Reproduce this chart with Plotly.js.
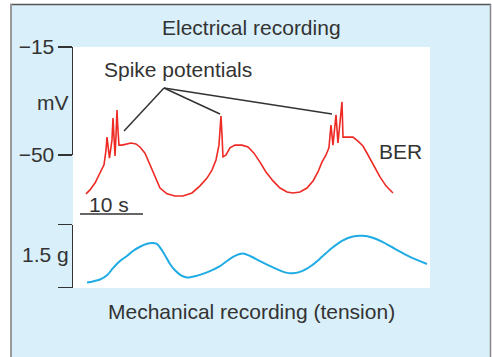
<!DOCTYPE html>
<html>
<head>
<meta charset="utf-8">
<script src="https://cdn.plot.ly/plotly-3.0.1.min.js"></script>
<style>html,body{margin:0;padding:0;background:#fff;}#chart{width:492px;height:357px;}</style>
</head>
<body>
<div id="chart"></div>
<script>
// ---- data (time in s, electrical in mV, tension in g) ----
const berTime = [2.06,2.70,3.49,4.29,4.92,5.24,5.40,5.79,6.19,6.35,6.51,6.67,6.83,6.98,7.14,7.30,7.78,8.41,9.21,10.0,10.63,11.43,12.22,13.02,13.81,14.92,16.19,17.46,18.89,20.16,21.27,22.06,22.70,23.17,23.33,23.49,23.65,23.81,24.29,24.92,25.71,26.83,27.78,28.73,29.68,30.63,31.75,32.86,33.97,34.92,36.03,37.14,38.10,38.89,39.52,40.16,40.63,40.95,41.27,41.75,42.06,42.38,42.70,42.86,43.49,44.44,45.24,46.03,46.83,47.78,48.73,49.68,50.79];
const berMv = [-62.6,-61.3,-59.1,-55.8,-53.2,-48.4,-44.2,-51.0,-45.1,-38.0,-45.1,-50.3,-43.5,-35.4,-41.9,-46.8,-46.8,-46.4,-46.1,-46.4,-47.4,-49.4,-53.2,-57.5,-60.7,-62.6,-63.3,-63.3,-62.3,-60.0,-57.5,-54.9,-51.6,-46.8,-41.9,-37.4,-43.5,-50.6,-50.0,-47.7,-46.8,-46.8,-47.4,-49.4,-52.3,-55.5,-58.4,-60.7,-62.0,-62.3,-62.0,-60.7,-58.4,-55.5,-52.3,-50.0,-47.7,-40.3,-46.8,-37.0,-46.1,-40.3,-32.8,-44.2,-44.2,-44.2,-45.5,-47.1,-50.0,-53.6,-57.1,-60.0,-62.3];
const tensionTime = [2.22,3.17,4.29,5.40,6.35,7.46,8.57,9.52,10.63,11.75,12.54,13.33,13.97,14.60,15.40,16.19,17.14,18.10,19.37,21.27,23.33,25.40,26.98,28.10,29.68,31.75,33.65,34.92,36.35,37.94,39.52,41.11,42.70,44.29,46.03,47.46,49.05,51.11,53.49,56.19];
const tensionG = [0.12,0.145,0.19,0.29,0.46,0.63,0.75,0.87,0.97,1.04,1.06,1.04,0.92,0.77,0.56,0.41,0.29,0.24,0.27,0.36,0.51,0.73,0.81,0.75,0.63,0.48,0.36,0.34,0.39,0.53,0.73,0.94,1.11,1.21,1.23,1.19,1.09,0.92,0.73,0.56];
const mvTicks = [-50, -15];
const mvTickText = ['\u221250', '\u221215'];
const gTicks = [0, 1.5];
const scaleBarStart = 1.11;   // s
const scaleBarLength = 10;    // s
const spikeLabelFrom = {t: 14.44, mv: -28.3};
const spikeTipsTime = [8.10, 23.33, 41.11];
const spikeTipsMv = [-42.2, -36.7, -36.7];
const timeSpan = 56.67;

// ---- layout geometry ----
const W = 492, H = 357, mL = 73, mR = 62, mT = 47, mB = 69;
const plotH = H - mT - mB, plotW = W - mL - mR;
const py = p => (H - mB - p) / plotH;   // pixel y -> paper y
const px = p => (p - mL) / plotW;       // pixel x -> paper x

// electrical bracket axis: -15 at top of plot (47px), -50 at 155px
const mvDom = [py(155), py(47)];
const mvPerPaper = (mvTicks[1] - mvTicks[0]) / (mvDom[1] - mvDom[0]);
const mvRangeFull = [mvTicks[0] - mvDom[0] * mvPerPaper, mvTicks[1] + (1 - mvDom[1]) * mvPerPaper];
// tension bracket axis: 0 at 287.5px, 1.5 at 224.5px
const gDom = [py(287.5), py(224.5)];
const gPerPaper = (gTicks[1] - gTicks[0]) / (gDom[1] - gDom[0]);
const gRangeFull = [gTicks[0] - gDom[0] * gPerPaper, gTicks[1] + (1 - gDom[1]) * gPerPaper];

const ink = '#333333';
const FONT = 'Liberation Sans, Arial, sans-serif';

const traces = [
  // empty traces only register the two scale-bracket axes so Plotly draws them
  {x: [], y: [], xaxis: 'x', yaxis: 'y', mode: 'lines', hoverinfo: 'skip', showlegend: false},
  {x: [], y: [], xaxis: 'x', yaxis: 'y2', mode: 'lines', hoverinfo: 'skip', showlegend: false},
  {x: berTime, y: berMv, xaxis: 'x', yaxis: 'y3', mode: 'lines',
   line: {color: '#ee2a24', width: 1.6}, hoverinfo: 'skip', showlegend: false},
  {x: tensionTime, y: tensionG, xaxis: 'x', yaxis: 'y4', mode: 'lines',
   line: {color: '#1fabe3', width: 2, shape: 'spline', smoothing: 0.8}, hoverinfo: 'skip', showlegend: false}
];

const shapes = [
  {type: 'rect', xref: 'paper', yref: 'paper', x0: px(11), x1: px(490), y0: py(380), y1: py(4.5),
   fillcolor: '#d9eff9', line: {width: 0}, layer: 'below'},
  {type: 'rect', xref: 'paper', yref: 'paper', x0: 0, x1: 1, y0: 0, y1: 1,
   fillcolor: '#ffffff', line: {width: 0}, layer: 'below'},
  {type: 'line', xref: 'paper', yref: 'paper', x0: px(10), x1: px(491), y0: py(4.5), y1: py(4.5),
   line: {color: '#555555', width: 1.6}},
  {type: 'line', xref: 'paper', yref: 'paper', x0: px(11), x1: px(11), y0: py(4), y1: py(380),
   line: {color: '#999999', width: 2}},
  {type: 'line', xref: 'paper', yref: 'paper', x0: px(490.5), x1: px(490.5), y0: py(4), y1: py(380),
   line: {color: '#888888', width: 1.5}},
  {type: 'line', xref: 'x', yref: 'paper', x0: scaleBarStart, x1: scaleBarStart + scaleBarLength,
   y0: py(214), y1: py(214), line: {color: ink, width: 1.5}}
];
spikeTipsTime.forEach((t, i) => {
  shapes.push({type: 'line', xref: 'x', yref: 'y3', x0: spikeLabelFrom.t, y0: spikeLabelFrom.mv,
    x1: t, y1: spikeTipsMv[i], line: {color: ink, width: 1.5}});
});

const txt = (text, x, y, extra) => Object.assign({text, xref: 'paper', yref: 'paper', x, y,
  xanchor: 'center', yanchor: 'middle', showarrow: false,
  font: {family: FONT, size: 21, color: ink}}, extra || {});

const annotations = [
  txt('Electrical recording', px(251), py(27.5)),
  txt('Spike potentials', px(178), py(69.5)),
  txt('mV', px(53), py(103)),
  txt('BER', px(400), py(151)),
  txt('10 s', px(109), py(204.5)),
  txt('1.5 g', px(45), py(254.5)),
  txt('Mechanical recording (tension)', px(251), py(311))
];

const bracket = {
  showline: true, linecolor: ink, linewidth: 1.5, ticks: 'outside', ticklen: 14, tickwidth: 1.5,
  tickcolor: ink, showgrid: false, zeroline: false, fixedrange: true, ticklabelstandoff: -1,
  tickfont: {family: FONT, size: 21, color: ink}
};

const layout = {
  width: W, height: H,
  margin: {l: mL, r: mR, t: mT, b: mB, pad: 0},
  paper_bgcolor: '#ffffff', plot_bgcolor: 'rgba(0,0,0,0)',
  showlegend: false,
  xaxis: {range: [0, timeSpan], visible: false, fixedrange: true},
  yaxis: Object.assign({}, bracket, {domain: mvDom, range: [mvTicks[0], mvTicks[1]], anchor: 'x',
    tickmode: 'array', tickvals: mvTicks, ticktext: mvTickText}),
  yaxis2: Object.assign({}, bracket, {domain: gDom, range: [gTicks[0], gTicks[1]], anchor: 'x',
    tickmode: 'array', tickvals: gTicks, showticklabels: false}),
  yaxis3: {domain: [0, 1], range: mvRangeFull, visible: false, anchor: 'x', fixedrange: true},
  yaxis4: {domain: [0, 1], range: gRangeFull, visible: false, anchor: 'x', overlaying: 'y3', fixedrange: true},
  shapes, annotations
};

Plotly.newPlot('chart', traces, layout, {staticPlot: true, displayModeBar: false});
</script>
</body>
</html>
